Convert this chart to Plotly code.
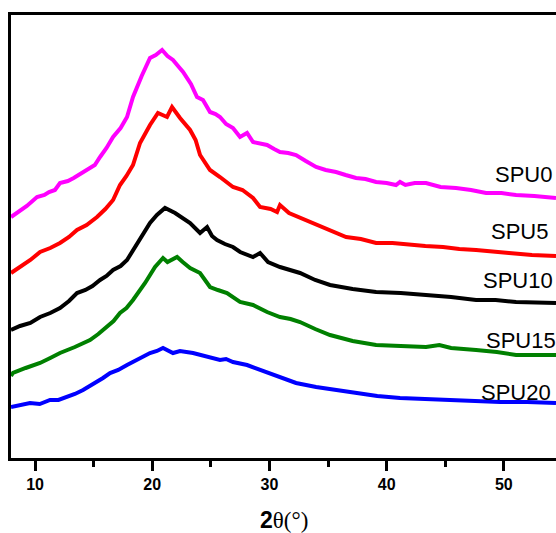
import plotly.graph_objects as go

# 2-theta (degrees) and intensity (a.u.)
x_spu0 = [7.95, 8.6, 9.3, 10.17, 10.8, 11.2, 11.7, 12.13, 12.8, 13.3, 14.0, 14.69, 15.1, 15.55, 16.1, 16.66, 17.3, 17.85, 18.36, 19.1, 19.81, 20.3, 20.84, 21.3, 21.77, 22.2, 22.63, 23.3, 23.82, 24.33, 24.93, 25.4, 25.78, 26.3, 26.89, 27.49, 28.09, 28.60, 29.2, 29.80, 30.4, 30.90, 31.6, 32.27, 33.1, 33.98, 34.8, 35.68, 36.5, 37.39, 38.2, 39.10, 40.0, 40.80, 41.14, 41.6, 42.4, 43.36, 44.6, 45.92, 47.2, 48.48, 49.8, 51.04, 52.6, 54.45]
y_spu0 = [241, 246, 252, 261, 263, 266, 268, 275, 277, 280, 285, 290, 293, 301, 310, 321, 330, 341, 361, 382, 400, 403, 408, 402, 398, 392, 386, 374, 361, 358, 346, 344, 341, 334, 330, 321, 325, 316, 315, 313, 309, 306, 305, 303, 297, 291, 288, 286, 283, 280, 279, 276, 275, 273, 276, 273, 275, 275, 271, 270, 268, 265, 265, 263, 262, 260]

x_spu5 = [7.95, 8.72, 9.6, 10.43, 11.3, 12.13, 12.9, 13.58, 14.4, 15.29, 16.0, 16.66, 17.25, 17.8, 18.36, 18.96, 19.81, 20.49, 20.9, 21.26, 21.69, 22.37, 23.23, 23.7, 24.08, 24.93, 25.78, 26.3, 26.89, 27.7, 28.2, 28.60, 29.20, 30.10, 30.65, 30.90, 31.67, 32.5, 33.98, 35.2, 36.54, 37.8, 39.10, 40.5, 41.91, 43.3, 44.81, 46.2, 47.63, 49.0, 50.44, 52.4, 54.45]
y_spu5 = [185, 191, 198, 206, 210, 215, 221, 228, 233, 241, 249, 258, 273, 282, 293, 315, 333, 345, 343, 341, 351, 340, 328, 318, 303, 288, 281, 276, 271, 268, 264, 260, 251, 249, 246, 253, 245, 241, 233, 228, 221, 219, 215, 215, 213, 212, 211, 209, 208, 207, 205, 203, 202]

x_spu10 = [7.95, 8.72, 9.6, 10.43, 11.3, 12.13, 12.9, 13.58, 14.3, 14.9, 15.55, 16.1, 16.66, 17.3, 17.85, 18.4, 18.96, 19.81, 20.4, 21.09, 21.95, 22.6, 23.23, 24.08, 24.68, 25.1, 25.53, 26.2, 26.89, 27.5, 28.09, 28.6, 29.20, 29.88, 30.90, 31.7, 32.61, 33.9, 35.17, 37.1, 39.10, 41.2, 43.36, 45.5, 47.63, 49.3, 51.04, 52.8, 54.45]
y_spu10 = [128, 132, 135, 141, 145, 150, 157, 165, 168, 172, 178, 182, 188, 192, 198, 208, 218, 235, 243, 250, 245, 240, 235, 225, 231, 222, 218, 214, 211, 206, 203, 201, 205, 196, 191, 188, 185, 178, 173, 169, 166, 165, 163, 161, 158, 158, 156, 155, 155]

x_spu15 = [7.95, 8.12, 9.2, 10.43, 11.3, 12.13, 13.4, 14.69, 15.4, 16.14, 16.7, 17.25, 17.8, 18.36, 19.39, 20.24, 20.92, 21.3, 21.69, 22.12, 22.6, 23.23, 24.08, 24.93, 25.6, 26.38, 27.49, 28.60, 29.80, 30.90, 31.8, 32.61, 33.9, 35.17, 37.1, 39.10, 41.2, 43.36, 44.5, 45.5, 47.63, 49.4, 51.04, 52.8, 54.45]
y_spu15 = [82, 85, 90, 95, 100, 105, 111, 118, 124, 131, 137, 145, 150, 158, 175, 191, 200, 196, 198, 201, 196, 190, 185, 171, 168, 165, 156, 153, 146, 141, 139, 136, 129, 123, 117, 113, 112, 111, 113, 110, 108, 106, 103, 103, 103]

x_spu20 = [7.95, 8.8, 9.57, 10.4, 11.28, 12.0, 12.73, 13.4, 14.10, 15.12, 15.8, 16.40, 17.1, 17.85, 18.96, 19.81, 20.4, 20.92, 21.77, 22.37, 23.48, 24.1, 24.68, 25.78, 26.3, 26.89, 28.09, 29.20, 30.31, 31.3, 32.27, 33.98, 35.7, 37.39, 39.2, 41.14, 43.3, 45.41, 47.5, 49.68, 52.0, 54.45]
y_spu20 = [51, 53, 55, 54, 58, 58, 61, 64, 68, 75, 80, 85, 88, 93, 100, 105, 107, 110, 105, 107, 105, 103, 102, 98, 99, 96, 93, 88, 83, 79, 75, 71, 68, 65, 62, 60, 59, 58, 57, 56, 56, 55]

names = ["SPU0", "SPU5", "SPU10", "SPU15", "SPU20"]
colors = ["#FF00FF", "#FF0000", "#000000", "#008000", "#0000FF"]
label_x = [49.08, 48.74, 48.05, 48.31, 47.88]
label_y = [284, 227, 178, 118, 66]

xs = [x_spu0, x_spu5, x_spu10, x_spu15, x_spu20]
ys = [y_spu0, y_spu5, y_spu10, y_spu15, y_spu20]

fig = go.Figure()
for xv, yv, n, c in zip(xs, ys, names, colors):
    fig.add_trace(go.Scatter(x=xv, y=yv, mode="lines", name=n,
                             line=dict(color=c, width=4), showlegend=False))

for n, lx, ly in zip(names, label_x, label_y):
    fig.add_annotation(x=lx, y=ly, xref="x", yref="y", text=n, showarrow=False,
                       xanchor="left", yanchor="middle",
                       font=dict(family="Liberation Sans, Arial", size=22, color="black"))

fig.add_annotation(x=0.5, y=-0.14, xref="paper", yref="paper",
                   text="<b>2</b><span style='font-family:Liberation Serif, Times New Roman'>θ(°)</span>",
                   showarrow=False, xanchor="center", yanchor="middle",
                   font=dict(family="Liberation Sans, Arial", size=23, color="black"))

fig.update_layout(
    width=556, height=533,
    margin=dict(l=11, r=0, t=15, b=75),
    paper_bgcolor="white", plot_bgcolor="white",
    xaxis=dict(range=[7.95, 54.45], showline=True, linecolor="black", linewidth=2.5,
               mirror=True, showgrid=False, zeroline=False,
               ticks="outside", ticklen=10, tickwidth=2.5, tickcolor="black",
               tick0=10, dtick=10,
               minor=dict(ticks="outside", ticklen=6, tickwidth=2.5, tickcolor="black", dtick=5, tick0=10),
               tickfont=dict(family="Liberation Sans, Arial", size=16, color="black", weight="bold")),
    yaxis=dict(range=[0, 443], showline=True, linecolor="black", linewidth=2.5,
               showgrid=False, zeroline=False, showticklabels=False, ticks=""),
)

fig.write_html("out.html")
